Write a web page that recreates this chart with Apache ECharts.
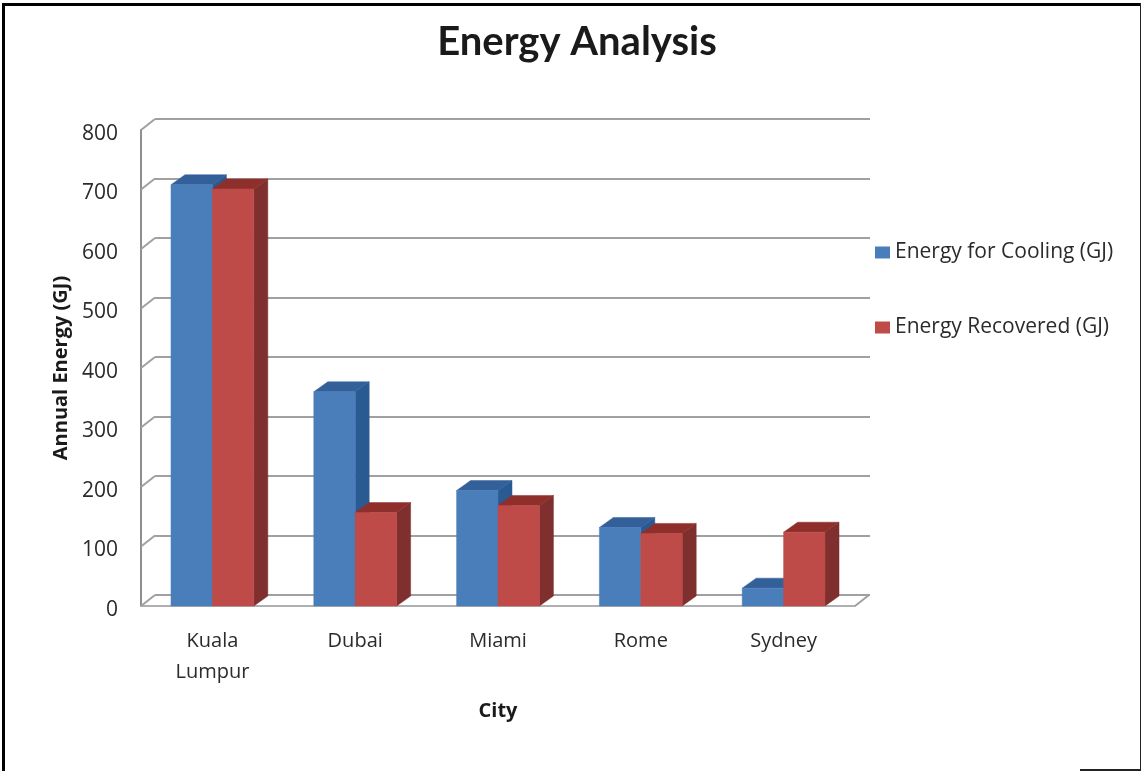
<!DOCTYPE html>
<html>
<head>
<meta charset="utf-8">
<style>html,body{margin:0;padding:0;background:#fff}#chart{width:1141px;height:771px}</style>
<script src="https://cdn.jsdelivr.net/npm/echarts@6/dist/echarts.min.js"></script>
</head>
<body>
<div id="chart"></div>
<script>
const cities = ['Kuala\nLumpur', 'Dubai', 'Miami', 'Rome', 'Sydney'];
const coolingEnergy = [708, 360, 194, 132, 30];
const recoveredEnergy = [701, 157, 169, 122, 124];
const yTicks = [0, 100, 200, 300, 400, 500, 600, 700, 800];

const FONT = '"Open Sans", "Noto Sans", sans-serif';
const TITLE_FONT = 'Lato, "Open Sans", sans-serif';
const TEXT = '#2b2b2b';
const GRID_GREY = '#a0a0a0';

// Oblique depth of the chart box and of the columns, in pixels
const WALL_DX = 14, WALL_DY = -11;
const BAR_DX = 14, BAR_DY = -10;

const polygon = (points, fill) => ({
  type: 'polygon',
  shape: { points },
  style: { fill, stroke: fill, lineWidth: 0.5 }
});

// One extruded column: side, top and front faces
function columnRenderer(sign, front, top, side) {
  return function (params, api) {
    const base = api.coord([api.value(0), 0]);
    const peak = api.coord([api.value(0), api.value(1)]);
    const w = api.size([1, 0])[0] * 0.29;
    const x0 = sign < 0 ? base[0] - w : base[0];
    const x1 = x0 + w;
    const y0 = base[1], y1 = peak[1];
    return {
      type: 'group',
      children: [
        polygon([[x1, y1], [x1 + BAR_DX, y1 + BAR_DY], [x1 + BAR_DX, y0 + BAR_DY], [x1, y0]], side),
        polygon([[x0, y1], [x0 + BAR_DX, y1 + BAR_DY], [x1 + BAR_DX, y1 + BAR_DY], [x1, y1]], top),
        polygon([[x0, y1], [x1, y1], [x1, y0], [x0, y0]], front)
      ]
    };
  };
}

// Short diagonals joining the value axis to the back wall, plus the floor's right edge
function wallRenderer(params, api) {
  const cs = params.coordSys;
  const y = api.coord([0, api.value(0)])[1];
  const line = (x) => ({
    type: 'line',
    shape: { x1: x, y1: y, x2: x + WALL_DX, y2: y + WALL_DY },
    style: { stroke: GRID_GREY, lineWidth: 2 }
  });
  const children = [line(cs.x)];
  if (api.value(0) === 0) children.push(line(cs.x + cs.width));
  return { type: 'group', children };
}

const chart = echarts.init(document.getElementById('chart'), null, { renderer: 'canvas' });
chart.setOption({
  animation: false,
  backgroundColor: '#ffffff',
  textStyle: { fontFamily: FONT },
  title: {
    text: 'Energy Analysis',
    left: 572, top: 17, textAlign: 'center',
    textStyle: { fontFamily: TITLE_FONT, fontSize: 40, fontWeight: 'bold', color: '#1a1a1a' }
  },
  legend: {
    data: ['Energy for Cooling (GJ)', 'Energy Recovered (GJ)'],
    orient: 'vertical',
    left: 870, top: 237,
    itemWidth: 15, itemHeight: 12, itemGap: 54,
    icon: 'rect',
    textStyle: { fontFamily: FONT, fontSize: 21, color: TEXT }
  },
  grid: [
    { left: 141, top: 130, width: 714, height: 476 },
    { left: 155, top: 119, width: 715, height: 476 }
  ],
  xAxis: [
    {
      gridIndex: 0, type: 'category', data: cities,
      axisTick: { show: false },
      axisLine: { lineStyle: { color: '#b0b0b0', width: 2 } },
      axisLabel: { fontFamily: FONT, fontSize: 20, color: TEXT, lineHeight: 31, margin: 20 },
      name: 'City', nameLocation: 'middle', nameGap: 95,
      nameTextStyle: { fontFamily: FONT, fontSize: 20, fontWeight: 'bold', color: '#1a1a1a' }
    },
    {
      gridIndex: 1, type: 'category', data: cities,
      axisTick: { show: false }, axisLabel: { show: false }, axisLine: { show: false }
    }
  ],
  yAxis: [
    {
      gridIndex: 0, type: 'value', min: 0, max: 800, interval: 100,
      splitLine: { show: false },
      axisTick: { show: false },
      axisLine: { show: true, lineStyle: { color: '#8f8f8f', width: 2 } },
      axisLabel: { fontFamily: FONT, fontSize: 21, color: TEXT, margin: 23, verticalAlign: 'top', lineHeight: 8 },
      name: 'Annual Energy (GJ)', nameLocation: 'middle', nameGap: 70, nameRotate: 90,
      nameTextStyle: { fontFamily: FONT, fontSize: 20, fontWeight: 'bold', color: '#1a1a1a' }
    },
    {
      gridIndex: 1, type: 'value', min: 0, max: 800, interval: 100,
      axisLabel: { show: false }, axisLine: { show: false }, axisTick: { show: false },
      splitLine: { lineStyle: { color: GRID_GREY, width: 2 } }
    }
  ],
  series: [
    {
      name: 'walls', type: 'custom', xAxisIndex: 0, yAxisIndex: 0,
      data: yTicks.map((v) => [v]),
      encode: { y: 0 },
      clip: false, silent: true, z: 1,
      renderItem: wallRenderer
    },
    {
      name: 'Energy for Cooling (GJ)', type: 'custom', xAxisIndex: 0, yAxisIndex: 0,
      data: coolingEnergy.map((v, i) => [i, v]),
      encode: { x: 0, y: 1 },
      clip: false, z: 2,
      itemStyle: { color: '#4a7ebb' },
      renderItem: columnRenderer(-1, '#4a7ebb', '#34609a', '#2a5a92')
    },
    {
      name: 'Energy Recovered (GJ)', type: 'custom', xAxisIndex: 0, yAxisIndex: 0,
      data: recoveredEnergy.map((v, i) => [i, v]),
      encode: { x: 0, y: 1 },
      clip: false, z: 3,
      itemStyle: { color: '#be4b48' },
      renderItem: columnRenderer(1, '#be4b48', '#8f2f2c', '#7f2f2e')
    }
  ],
  // Picture frame round the chart
  graphic: [
    { type: 'rect', silent: true, shape: { x: 2, y: 3, width: 3, height: 768 }, style: { fill: '#000' } },
    { type: 'rect', silent: true, shape: { x: 2, y: 3, width: 1139, height: 3 }, style: { fill: '#000' } },
    { type: 'rect', silent: true, shape: { x: 1140, y: 3, width: 1, height: 768 }, style: { fill: '#222' } },
    { type: 'rect', silent: true, shape: { x: 1080, y: 769, width: 61, height: 2 }, style: { fill: '#222' } }
  ]
});
</script>
</body>
</html>
